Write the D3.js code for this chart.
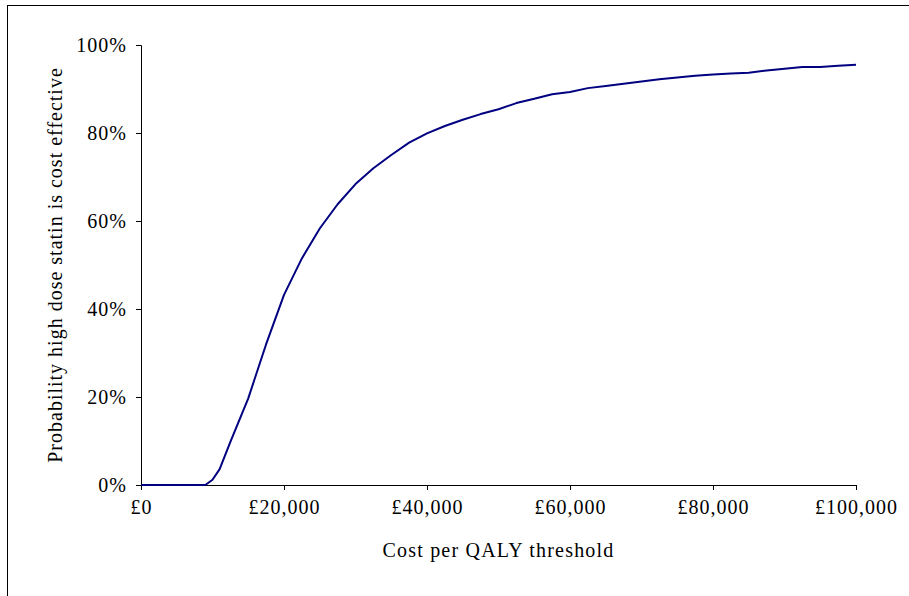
<!DOCTYPE html>
<html lang="en">
<head>
<meta charset="UTF-8">
<title>Cost-effectiveness acceptability curve</title>
<script src="https://d3js.org/d3.v7.min.js"></script>
<style>
  body { margin: 0; background: #fff; }
  svg text { font-family: "Liberation Serif", "Times New Roman", serif; fill: #000; }
</style>
</head>
<body>
<div id="chart"></div>
<script>
// threshold (£ per QALY) and probability (%)
var thresholds = [0, 2500, 5000, 7500, 9000, 10000, 11000, 12500, 15000, 17500, 20000, 22500, 25000,
    27500, 30000, 32500, 35000, 37500, 40000, 42500, 45000, 47500, 50000, 52500, 55000,
    57500, 60000, 62500, 65000, 67500, 70000, 72500, 75000, 77500, 80000, 82500, 85000,
    87500, 90000, 92500, 95000, 97500, 100000];
var probability = [0, 0, 0, 0, 0, 1.2, 3.6, 9.8, 19.7, 32, 43.2, 51.5, 58.3,
    63.8, 68.4, 72, 75, 77.8, 79.9, 81.6, 83, 84.3, 85.4, 86.8, 87.8,
    88.8, 89.3, 90.2, 90.7, 91.2, 91.7, 92.2, 92.6, 93, 93.3, 93.5, 93.7,
    94.2, 94.6, 95, 95, 95.3, 95.5];
var xTicks = [0, 20000, 40000, 60000, 80000, 100000];
var yTicks = [0, 20, 40, 60, 80, 100];

var W = 909, H = 596;
var margin = {left: 141, right: 53, top: 45, bottom: 111};
var fontSize = 20, spacing = "1px";

var svg = d3.select("#chart").append("svg")
    .attr("width", W)
    .attr("height", H);

// outer frame (only its left and top edges fall inside the picture)
svg.append("rect")
    .attr("x", 7.5).attr("y", 5.5)
    .attr("width", W + 20).attr("height", H + 20)
    .attr("fill", "none")
    .attr("stroke", "#000")
    .attr("stroke-width", 1);

var x = d3.scaleLinear().domain([0, 100000]).range([margin.left, W - margin.right]);
var y = d3.scaleLinear().domain([0, 100]).range([H - margin.bottom, margin.top]);

var fmtGBP = function(d) { return "£" + d3.format(",")(d); };

var xAxis = svg.append("g")
    .attr("transform", "translate(0," + y(0) + ")")
    .call(d3.axisBottom(x).tickValues(xTicks).tickFormat(fmtGBP).tickSize(5).tickPadding(10));

var yAxis = svg.append("g")
    .attr("transform", "translate(" + x(0) + ",0)")
    .call(d3.axisLeft(y).tickValues(yTicks).tickFormat(function(d) { return d + "%"; }).tickSize(5).tickPadding(9));

[xAxis, yAxis].forEach(function(g) {
    g.select(".domain").attr("stroke", "#000").attr("stroke-width", 1);
    g.selectAll(".tick line").attr("stroke", "#000");
    g.selectAll(".tick text")
        .attr("font-size", fontSize)
        .attr("font-family", "Liberation Serif")
        .style("letter-spacing", spacing);
});

var points = thresholds.map(function(t, i) { return [t, probability[i]]; });

svg.append("path")
    .datum(points)
    .attr("fill", "none")
    .attr("stroke", "#000080")
    .attr("stroke-width", 2)
    .attr("stroke-linejoin", "round")
    .attr("d", d3.line().x(function(d) { return x(d[0]); }).y(function(d) { return y(d[1]); }));

// axis titles
svg.append("text")
    .attr("x", (x(0) + x(100000)) / 2)
    .attr("y", 557)
    .attr("text-anchor", "middle")
    .attr("font-size", fontSize)
    .style("letter-spacing", "1.2px")
    .text("Cost per QALY threshold");

svg.append("text")
    .attr("transform", "translate(62," + ((y(0) + y(100)) / 2) + ") rotate(-90)")
    .attr("text-anchor", "middle")
    .attr("font-size", fontSize)
    .style("letter-spacing", "1px")
    .text("Probability high dose statin is cost effective");
</script>
</body>
</html>
